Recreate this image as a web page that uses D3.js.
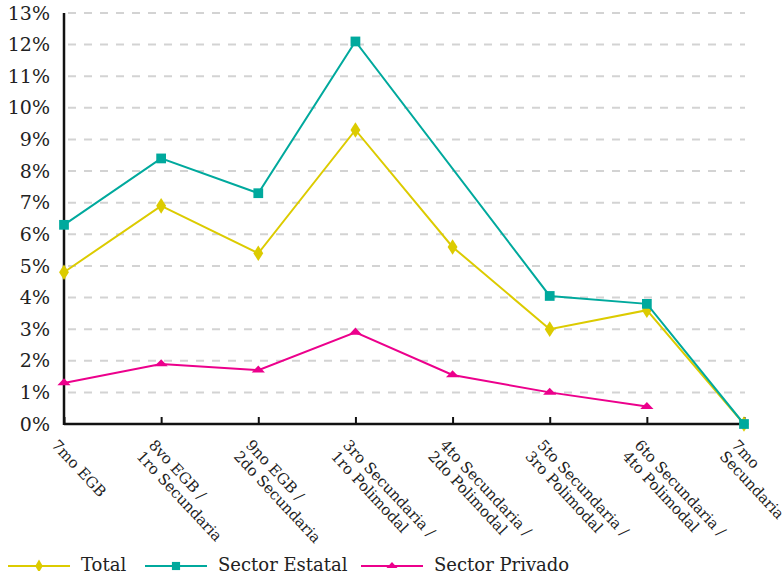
<!DOCTYPE html>
<html>
<head>
<meta charset="utf-8">
<script src="https://cdn.jsdelivr.net/npm/d3@7"></script>
<style>
  body { margin: 0; background: #fff; }
  text { font-family: "DejaVu Serif", serif; fill: #222; }
</style>
</head>
<body>
<svg id="chart" width="783" height="571"></svg>
<script>
// categories along the x axis (each label split on its line break)
var categories = [
  ["7mo EGB"],
  ["8vo EGB /", "1ro Secundaria"],
  ["9no EGB /", "2do Secundaria"],
  ["3ro Secundaria /", "1ro Polimodal"],
  ["4to Secundaria /", "2do Polimodal"],
  ["5to Secundaria /", "3ro Polimodal"],
  ["6to Secundaria /", "4to Polimodal"],
  ["7mo", "Secundaria"]
]

// values in percent, null = no value
var total   = [4.8, 6.9, 5.4, 9.3, 5.6, 3.0, 3.6, 0]
var estatal = [6.3, 8.4, 7.3, 12.1, null, 4.05, 3.8, 0]
var privado = [1.3, 1.9, 1.7, 2.9, 1.55, 1.0, 0.55, null]

var yTicks = d3.range(0, 14)

var series = [
  {name: "Total", values: total, color: "#dccb00", symbol: d3.symbolDiamond, size: 70},
  {name: "Sector Estatal", values: estatal, color: "#00a99d", symbol: d3.symbolSquare, size: 95},
  {name: "Sector Privado", values: privado, color: "#ec008c", symbol: d3.symbolTriangle, size: 45}
]

var plotLeft = 64, plotRight = 744, plotTop = 13, plotBottom = 424

var svg = d3.select("#chart")

var x = d3.scalePoint()
  .domain(d3.range(categories.length))
  .range([plotLeft, plotRight])

var y = d3.scaleLinear()
  .domain([0, 13])
  .range([plotBottom, plotTop])

// dashed grid lines
svg.append("g")
  .selectAll("line")
  .data(yTicks.filter(function(d){ return d > 0 }))
  .join("line")
  .attr("x1", plotLeft)
  .attr("x2", plotRight + 1)
  .attr("y1", function(d){ return y(d) })
  .attr("y2", function(d){ return y(d) })
  .attr("stroke", "#d3d3d3")
  .attr("stroke-width", 2)
  .attr("stroke-dasharray", "8,8")
  .attr("stroke-dashoffset", -4)

// y axis labels
var yAxis = d3.axisLeft(y)
  .tickValues(yTicks)
  .tickFormat(function(d){ return d + "%" })
  .tickSize(0)
  .tickPadding(14)

var gy = svg.append("g")
  .attr("transform", "translate(" + plotLeft + ",0)")
  .call(yAxis)
gy.select(".domain").remove()
gy.selectAll("text")
  .style("font-family", "DejaVu Serif")
  .style("font-size", "19px")
  .attr("fill", "#222")

// x axis: ticks pointing up into the plot
var xAxis = d3.axisBottom(x)
  .tickSize(-7)
  .tickFormat("")

var gx = svg.append("g")
  .attr("transform", "translate(0," + plotBottom + ")")
  .call(xAxis)
gx.select(".domain").remove()
gx.selectAll("line").attr("stroke", "#111").attr("stroke-width", 2)

svg.append("line")
  .attr("x1", plotLeft).attr("x2", plotRight + 1)
  .attr("y1", plotBottom).attr("y2", plotBottom)
  .attr("stroke", "#111").attr("stroke-width", 2.5)
svg.append("line")
  .attr("x1", plotLeft).attr("x2", plotLeft)
  .attr("y1", plotTop).attr("y2", plotBottom + 1)
  .attr("stroke", "#111").attr("stroke-width", 2.5)

// rotated category labels
var labels = svg.append("g")
  .selectAll("text")
  .data(categories)
  .join("text")
  .attr("transform", function(d, i){ return "translate(" + (x(i) - 5) + "," + (plotBottom + 14) + ") rotate(47)" })
  .style("font-size", "15px")
labels.selectAll("tspan")
  .data(function(d){ return d })
  .join("tspan")
  .attr("x", 0)
  .attr("dy", function(d, i){ return i === 0 ? "0.75em" : "1.1em" })
  .text(function(d){ return d })

// lines and markers
var line = d3.line()
  .x(function(d){ return x(d.i) })
  .y(function(d){ return y(d.v) })

series.forEach(function(s){
  var pts = s.values.map(function(v, i){ return {i: i, v: v} })
    .filter(function(d){ return d.v !== null })
  svg.append("path")
    .datum(pts)
    .attr("d", line)
    .attr("fill", "none")
    .attr("stroke", s.color)
    .attr("stroke-width", 2)
  svg.append("g")
    .selectAll("path")
    .data(pts)
    .join("path")
    .attr("d", d3.symbol().type(s.symbol).size(s.size))
    .attr("transform", function(d){
      var t = "translate(" + x(d.i) + "," + y(d.v) + ")"
      if (s.symbol === d3.symbolDiamond) t += " scale(1.1,1)"
      if (s.symbol === d3.symbolTriangle) t += " scale(1.3,0.8)"
      return t
    })
    .attr("fill", s.color)
})

// legend
var legendX = [8, 145, 361]
var legend = svg.append("g")
  .selectAll("g")
  .data(series)
  .join("g")
  .attr("transform", function(d, i){ return "translate(" + legendX[i] + ",566)" })
legend.append("line")
  .attr("x1", 0).attr("x2", 62)
  .attr("stroke", function(d){ return d.color })
  .attr("stroke-width", 2)
legend.append("path")
  .attr("d", function(d){ return d3.symbol().type(d.symbol).size(d.size * 0.7)() })
  .attr("transform", function(d){
    var t = "translate(31,0)"
    if (d.symbol === d3.symbolTriangle) t += " scale(1.3,0.8)"
    return t
  })
  .attr("fill", function(d){ return d.color })
legend.append("text")
  .attr("x", 73)
  .attr("y", 0)
  .attr("dy", "0.3em")
  .style("font-size", "18px")
  .text(function(d){ return d.name })
</script>
</body>
</html>
